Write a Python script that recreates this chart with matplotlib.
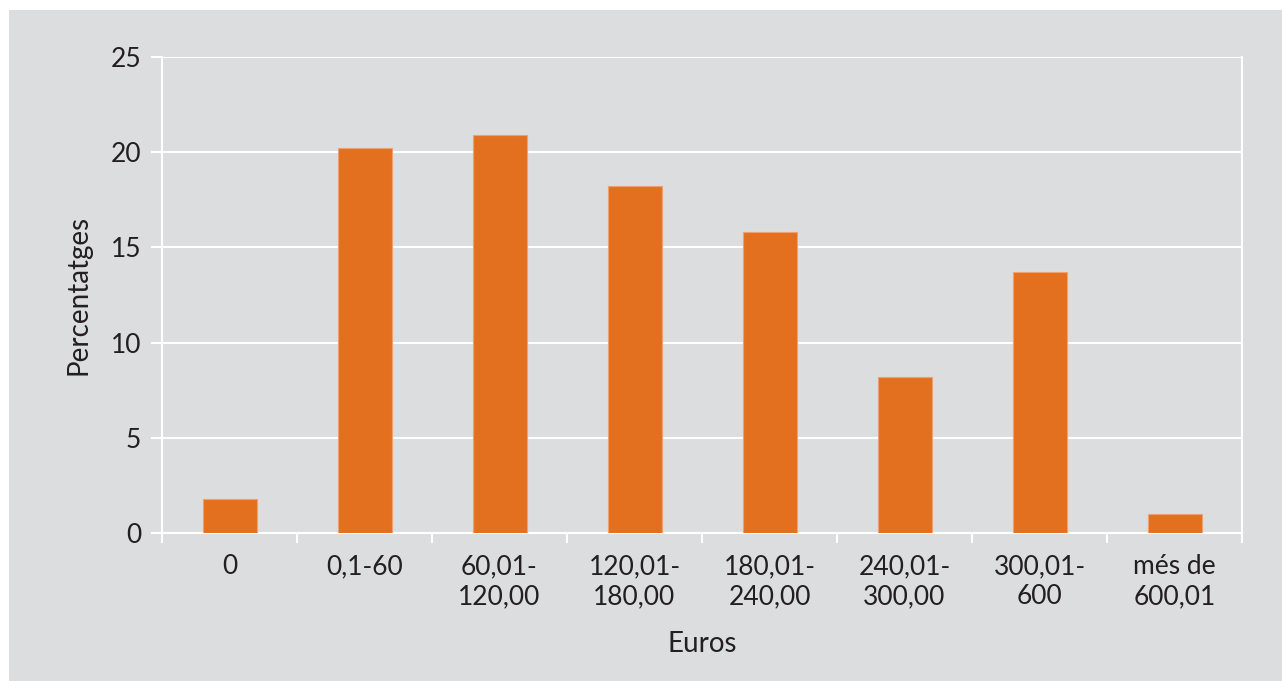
import matplotlib
matplotlib.use("Agg")
import matplotlib.pyplot as plt
from matplotlib.patches import Rectangle
import numpy as np

categories = ["0", "0,1-60", "60,01-\n120,00", "120,01-\n180,00", "180,01-\n240,00",
              "240,01-\n300,00", "300,01-\n600", "més de\n600,01"]
percentages = [1.8, 20.2, 20.9, 18.2, 15.8, 8.2, 13.7, 1.0]
y_ticks = [0, 5, 10, 15, 20, 25]

panel_gray = "#dcdddf"
bar_orange = "#e3701e"
text_color = "#231f20"

plt.rcParams["font.family"] = ["Lato", "DejaVu Sans"]

W, H = 1282, 681
fig = plt.figure(figsize=(W / 100, H / 100), dpi=100, facecolor="white")
fig.patches.append(Rectangle((9 / W, 0), 1 - 9 / W, 1 - 10 / H, transform=fig.transFigure,
                             facecolor=panel_gray, edgecolor="none", zorder=-10))

left, right, top, bottom = 162, 1242, 57, 533
ax = fig.add_axes([left / W, 1 - bottom / H, (right - left) / W, (bottom - top) / H])
ax.set_facecolor(panel_gray)

x = np.arange(len(categories))
ax.bar(x, percentages, width=0.4, color=bar_orange, edgecolor="#eea070", linewidth=0.8, zorder=3)

ax.set_xlim(-0.5, len(categories) - 0.5)
ax.set_ylim(0, 25)
ax.set_yticks(y_ticks)
ax.set_yticklabels([str(v) for v in y_ticks])
ax.yaxis.grid(True, color="white", linewidth=1.5, zorder=0)
ax.set_axisbelow(True)

ax.set_xticks(x)
ax.set_xticklabels(categories)
ax.set_xticks(np.arange(-0.5, len(categories)), minor=True)
ax.tick_params(axis="x", which="major", length=0, pad=15, labelsize=19, colors=text_color)
ax.tick_params(axis="x", which="minor", length=7, width=1.5, color="white", direction="out")
ax.tick_params(axis="y", length=8, width=1.5, color="white", pad=7, labelsize=19, labelcolor=text_color)
for lbl in ax.get_xticklabels():
    lbl.set_linespacing(1.26)

for side in ["left", "right", "bottom"]:
    ax.spines[side].set_color("white")
    ax.spines[side].set_linewidth(1.5)
ax.spines["top"].set_visible(False)

ax.set_ylabel("Percentatges", fontsize=20, color=text_color, labelpad=14)
ax.set_xlabel("Euros", fontsize=20, color=text_color, labelpad=16)

fig.savefig("out.png", dpi=100, facecolor=fig.get_facecolor())
